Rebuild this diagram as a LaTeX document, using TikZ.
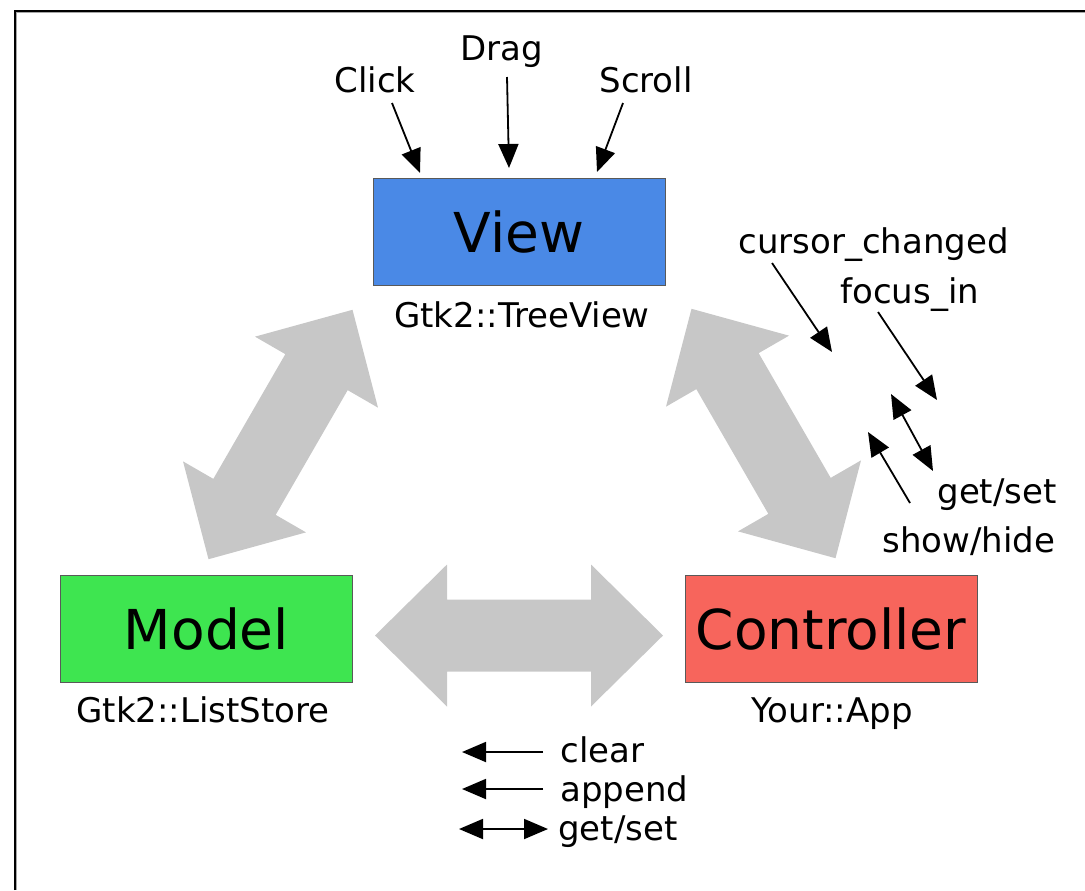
\documentclass[tikz,border=0pt]{standalone}
\usepackage{fontspec}
\setmainfont{DejaVu Sans}
\usetikzlibrary{arrows.meta}

\definecolor{viewblue}{RGB}{74,137,230}
\definecolor{modelgreen}{RGB}{62,229,80}
\definecolor{ctrlred}{RGB}{247,101,92}
\definecolor{bigarrowgray}{RGB}{199,199,199}

\tikzset{
  mvcbox/.style={draw=black!65, line width=0.5pt, minimum width=146pt, minimum height=53.5pt,
    inner sep=0pt, font=\fontsize{27.5}{33}\selectfont},
  classlabel/.style={anchor=base, inner sep=0pt, font=\fontsize{17}{20}\selectfont},
  evlabel/.style={anchor=base, inner sep=0pt, font=\fontsize{17}{20}\selectfont},
  sarrow/.style={-{Triangle[length=12pt,width=10pt]}, line width=0.9pt},
  dsarrow/.style={{Triangle[length=12pt,width=10pt]}-{Triangle[length=12pt,width=10pt]}, line width=0.9pt},
  bigarrow/.style={fill=bigarrowgray},
}

\begin{document}
\begin{tikzpicture}[x=0.5pt, y=-0.5pt]
\useasboundingbox (0,0) rectangle (1085,890);

% frame (cut off on the right and at the bottom)
\draw[line width=1pt] (14.5,890) -- (14.5,10.5) -- (1085,10.5);
\draw[black!35, line width=0.5pt] (16.5,890) -- (16.5,12.5) -- (1085,12.5);

% big grey double arrows
\foreach \cx/\cy/\ang in {280.5/434.5/60, 519/635.5/0, 763.5/433.5/-60}
  \fill[bigarrow, shift={(\cx,\cy)}, rotate=\ang]
    (-144,0) -- (-72,-71) -- (-72,-36) -- (72,-36) -- (72,-71) -- (144,0)
    -- (72,71) -- (72,36) -- (-72,36) -- (-72,71) -- cycle;

% the three parts
\node[mvcbox, fill=viewblue] (view) at (519,231.5) {View};
\node[mvcbox, fill=modelgreen] (model) at (206.5,628.5) {Model};
\node[mvcbox, fill=ctrlred] (controller) at (831,628.5) {Controller};

\node[classlabel] (treeview) at (522,327) {Gtk2::TreeView};
\node[classlabel] (liststore) at (203,722) {Gtk2::ListStore};
\node[classlabel] (yourapp) at (832,722) {Your::App};

% user input
\node[evlabel] (click) at (375,92) {Click};
\node[evlabel] (drag) at (502,60) {Drag};
\node[evlabel] (scroll) at (646,92) {Scroll};
\coordinate (clickend) at (420,173);
\coordinate (dragend) at (509,168);
\coordinate (scrollend) at (597,172);
\draw[sarrow] (click.base) ++(17,11) -- (clickend);
\draw[sarrow] (drag.base) ++(5,17) -- (dragend);
\draw[sarrow] (scroll.base) ++(-23,11) -- (scrollend);

% view <-> controller
\node[evlabel, anchor=base west] (cursor) at (738,253) {cursor\_changed};
\node[evlabel, anchor=base west] (focus) at (840,303) {focus\_in};
\node[evlabel, anchor=base west] (getsetv) at (937,503) {get/set};
\node[evlabel, anchor=base west] (showhide) at (882,552) {show/hide};
\coordinate (cursorend) at (832,352);
\coordinate (focusend) at (937,400);
\coordinate (getsetvend) at (891,394);
\coordinate (showhideend) at (868,432);
\draw[sarrow] (cursor.base west) ++(34,10) -- (cursorend);
\draw[sarrow] (focus.base west) ++(38,9) -- (focusend);
\draw[dsarrow] (getsetv.base west) ++(-4,-32) -- (getsetvend);
\draw[sarrow] (showhide.base west) ++(28,-49) -- (showhideend);

% controller -> model
\node[evlabel, anchor=base west] (clear) at (560,762) {clear};
\node[evlabel, anchor=base west] (append) at (560,801) {append};
\node[evlabel, anchor=base west] (getsetm) at (558,840) {get/set};
\coordinate (clearend) at (462,752);
\coordinate (appendend) at (462,789);
\coordinate (getsetmend) at (459,829);
\draw[sarrow] (clear.base west) ++(-17,-10) -- (clearend);
\draw[sarrow] (append.base west) ++(-17,-12) -- (appendend);
\draw[dsarrow] (getsetm.base west) ++(-10,-11) -- (getsetmend);
\end{tikzpicture}
\end{document}
